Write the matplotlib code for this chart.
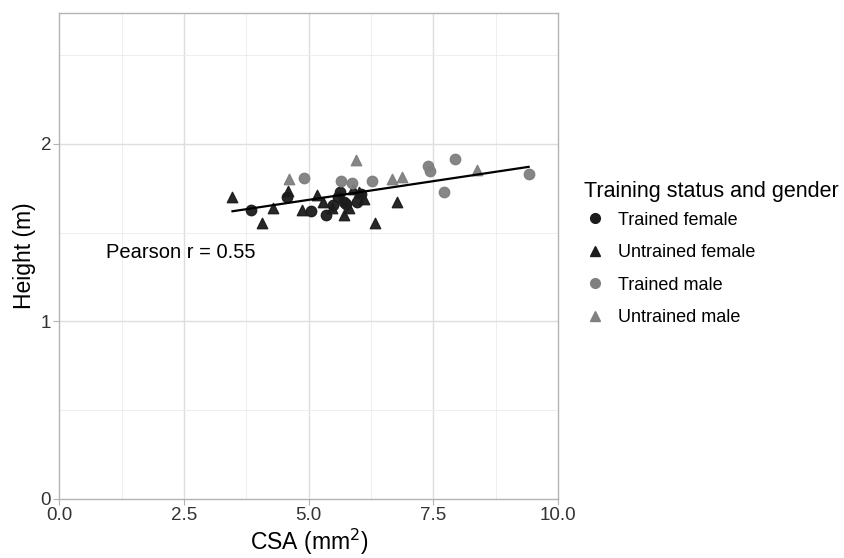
import numpy as np
import matplotlib
matplotlib.use("Agg")
from matplotlib import pyplot as plt
from matplotlib.lines import Line2D

plt.rcParams['font.family'] = ['Liberation Sans', 'DejaVu Sans']

# CSA (mm^2) and height (m) per group
tf_csa = [3.85, 4.57, 5.04, 5.34, 5.49, 5.59, 5.62, 5.70, 5.96, 6.04, 5.75]
tf_height = [1.63, 1.70, 1.62, 1.60, 1.656, 1.70, 1.73, 1.675, 1.67, 1.72, 1.66]

uf_csa = [3.47, 4.07, 4.29, 4.59, 4.87, 5.16, 5.28, 5.46, 5.70, 5.80, 5.88, 6.00, 6.10, 6.33, 6.76]
uf_height = [1.70, 1.557, 1.64, 1.737, 1.625, 1.71, 1.67, 1.64, 1.60, 1.64, 1.745, 1.73, 1.69, 1.557, 1.67]

tm_csa = [4.90, 5.64, 5.87, 6.26, 7.39, 7.43, 7.71, 7.93, 9.41]
tm_height = [1.81, 1.79, 1.78, 1.79, 1.878, 1.848, 1.728, 1.916, 1.83]

um_csa = [4.60, 5.94, 6.66, 6.87, 8.37]
um_height = [1.80, 1.91, 1.80, 1.816, 1.854]

groups = ["Trained female", "Untrained female", "Trained male", "Untrained male"]
pearson_label = "Pearson r = 0.55"

fig = plt.figure(figsize=(8.45, 5.58), dpi=100)
ax = fig.add_axes([0.0704, 0.1063, 0.5900, 0.8709])

grid_c = "#ebebeb"
for v in [1.25, 3.75, 6.25, 8.75]:
    ax.axvline(v, color=grid_c, lw=0.6, zorder=0)
for v in [2.5, 5.0, 7.5]:
    ax.axvline(v, color="#dedede", lw=1.0, zorder=0)
for v in [0.5, 1.5, 2.5]:
    ax.axhline(v, color=grid_c, lw=0.6, zorder=0)
for v in [1, 2]:
    ax.axhline(v, color="#dedede", lw=1.0, zorder=0)

dark = "#1c1c1c"
grey = "#808080"
ms = 56
ax.scatter(tf_csa, tf_height, marker="o", s=ms, color=dark, alpha=0.95, zorder=3)
ax.scatter(uf_csa, uf_height, marker="^", s=ms, color=dark, alpha=0.95, zorder=3)
ax.scatter(tm_csa, tm_height, marker="o", s=ms, color=grey, alpha=0.95, zorder=3)
ax.scatter(um_csa, um_height, marker="^", s=ms, color=grey, alpha=0.95, zorder=3)

all_x = np.array(tf_csa + uf_csa + tm_csa + um_csa)
all_y = np.array(tf_height + uf_height + tm_height + um_height)
slope, icpt = np.polyfit(all_x, all_y, 1)
xs = np.array([all_x.min(), all_x.max()])
ax.plot(xs, icpt + slope * xs, color="black", lw=1.6, zorder=4)

ax.text(0.94, 1.39, pearson_label, fontsize=14.5, va="center", ha="left", color="black")

ax.set_xlim(0, 10)
ax.set_ylim(0, 2.74)
ax.set_xticks([0, 2.5, 5, 7.5, 10])
ax.set_xticklabels(["0.0", "2.5", "5.0", "7.5", "10.0"])
ax.set_yticks([0, 1, 2])
for s in ax.spines.values():
    s.set_color("#b3b3b3")
    s.set_linewidth(1.0)
ax.tick_params(colors="#b3b3b3", labelcolor="#333333", labelsize=13.5, length=4, width=0.8, pad=2)
ax.set_xlabel("CSA (mm$^2$)", fontsize=16.5, labelpad=2)
ax.set_ylabel("Height (m)", fontsize=16.5, labelpad=3)

handles = [
    Line2D([], [], marker="o", ls="", color=dark, markersize=7),
    Line2D([], [], marker="^", ls="", color=dark, markersize=7),
    Line2D([], [], marker="o", ls="", color=grey, markersize=7),
    Line2D([], [], marker="^", ls="", color=grey, markersize=7),
]
leg = fig.legend(handles, groups, title="Training status and gender", loc="upper left",
                 bbox_to_anchor=(0.6805, 0.692), frameon=False, fontsize=13,
                 title_fontsize=15.5, labelspacing=0.86, handletextpad=0.7,
                 handlelength=1.2, borderpad=0)
leg._legend_box.align = "left"
leg._legend_box.sep = 7

fig.savefig("out.png", dpi=100)
